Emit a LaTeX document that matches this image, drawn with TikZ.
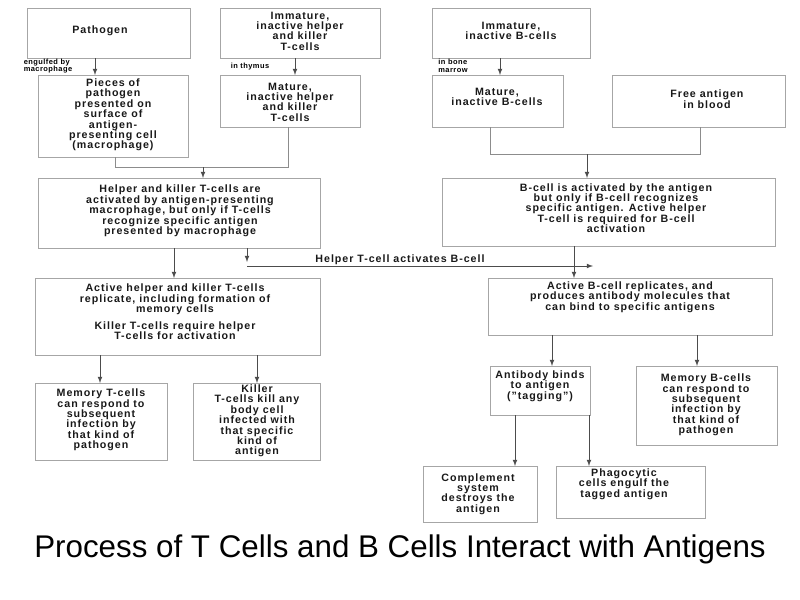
\documentclass[tikz,border=0pt]{standalone}
\usepackage{fontspec}
\setmainfont{Liberation Sans}
\begin{document}
\begin{tikzpicture}[x=0.75pt,y=-0.75pt,
  box/.style={draw=black!35,line width=0.6pt},
  txt/.style={align=center,font=\fontsize{8}{7.8}\selectfont\bfseries\addfontfeature{LetterSpace=9},text=black!90},
  lab/.style={align=left,font=\fontsize{5.6}{5.6}\selectfont\bfseries\addfontfeature{LetterSpace=6},text=black},
  ln/.style={draw=black!45,line width=0.6pt},
  ar/.style={ln,draw=black!70,-latex}]
\useasboundingbox[fill=white] (0,0) rectangle (800,600);
% boxes
\draw[box] (27,8) rectangle (190,58); \node[txt] (pat) at (100,31) {Pathogen};
\draw[box] (220,8) rectangle (380,58); \node[txt] (imt) at (300,31) {Immature,\\inactive helper\\and killer\\T-cells};
\draw[box] (432,8) rectangle (590,58); \node[txt] (imb) at (511,31) {Immature,\\inactive B-cells};
\draw[box] (38,75) rectangle (188,157); \node[txt] (pie) at (113,115) {Pieces of\\pathogen\\presented on\\surface of\\antigen-\\presenting cell\\(macrophage)};
\draw[box] (220,75) rectangle (360,127); \node[txt] (mat) at (290,102) {Mature,\\inactive helper\\and killer\\T-cells};
\draw[box] (432,75) rectangle (563,127); \node[txt] (mab) at (497,97) {Mature,\\inactive B-cells};
\draw[box] (612,75) rectangle (785,127); \node[txt] (fre) at (707,99) {Free antigen\\in blood};
\draw[box] (38,178) rectangle (320,248); \node[txt] (hel) at (180,211) {Helper and killer T-cells are\\activated by antigen-presenting\\macrophage, but only if T-cells\\recognize specific antigen\\presented by macrophage};
\draw[box] (442,178) rectangle (775,246); \node[txt] (bac) at (616,208) {B-cell is activated by the antigen\\but only if B-cell recognizes\\specific antigen. Active helper\\T-cell is required for B-cell\\activation};
\draw[box] (35,278) rectangle (320,355); \node[txt] (rep) at (175,312) {Active helper and killer T-cells\\replicate, including formation of\\memory cells\\[5pt]Killer T-cells require helper\\T-cells for activation};
\draw[box] (488,278) rectangle (772,335); \node[txt] (brp) at (630,297) {Active B-cell replicates, and\\produces antibody molecules that\\can bind to specific antigens};
\draw[box] (35,383) rectangle (167,460); \node[txt] (mt) at (101,420) {Memory T-cells\\can respond to\\subsequent\\infection by\\that kind of\\pathogen};
\draw[box] (193,383) rectangle (320,460); \node[txt] (kil) at (257,421) {Killer\\T-cells kill any\\body cell\\infected with\\that specific\\kind of\\antigen};
\draw[box] (490,366) rectangle (590,415); \node[txt] (ab) at (540,386) {Antibody binds\\to antigen\\("tagging")};
\draw[box] (636,366) rectangle (777,445); \node[txt] (mb) at (706,405) {Memory B-cells\\can respond to\\subsequent\\infection by\\that kind of\\pathogen};
\draw[box] (423,466) rectangle (537,522); \node[txt] (com) at (478,494) {Complement\\system\\destroys the\\antigen};
\draw[box] (556,466) rectangle (705,518); \node[txt] (pha) at (624,484) {Phagocytic\\cells engulf the\\tagged antigen};
% connectors
\coordinate (a1) at (95,58); \coordinate (a2) at (95,75);
\draw[ar] (a1) -- (a2);
\node[lab] (l1) at (48,66) {engulfed by\\macrophage};
\coordinate (b1) at (295,58); \coordinate (b2) at (295,75);
\draw[ar] (b1) -- (b2);
\node[lab] (l2) at (250,67) {in thymus};
\coordinate (c1) at (500,58); \coordinate (c2) at (500,75);
\draw[ar] (c1) -- (c2);
\node[lab] (l3) at (453,66) {in bone\\marrow};
\coordinate (p1) at (115,157); \coordinate (p2) at (115,167); \coordinate (p3) at (288,167); \coordinate (p4) at (288,127);
\draw[ln] (p1) -- (p2) -- (p3) -- (p4);
\coordinate (p5) at (203,167); \coordinate (p6) at (203,178);
\draw[ar] (p5) -- (p6);
\coordinate (q1) at (490,127); \coordinate (q2) at (490,154); \coordinate (q3) at (700,154); \coordinate (q4) at (700,127);
\draw[ln] (q1) -- (q2) -- (q3) -- (q4);
\coordinate (q5) at (587,154); \coordinate (q6) at (587,178);
\draw[ar] (q5) -- (q6);
\coordinate (h1) at (174,248); \coordinate (h2) at (174,278);
\draw[ar] (h1) -- (h2);
\coordinate (h3) at (247,248); \coordinate (h4) at (247,262);
\draw[ar] (h3) -- (h4);
\coordinate (h5) at (247,266); \coordinate (h6) at (593,266);
\draw[ar] (h5) -- (h6);
\node[txt] (hab) at (400,260) {Helper T-cell activates B-cell};
\coordinate (k1) at (574,246); \coordinate (k2) at (574,278);
\draw[ar] (k1) -- (k2);
\coordinate (r1) at (100,355); \coordinate (r2) at (100,383);
\draw[ar] (r1) -- (r2);
\coordinate (r3) at (257,355); \coordinate (r4) at (257,383);
\draw[ar] (r3) -- (r4);
\coordinate (s1) at (552,335); \coordinate (s2) at (552,366);
\draw[ar] (s1) -- (s2);
\coordinate (s3) at (697,335); \coordinate (s4) at (697,366);
\draw[ar] (s3) -- (s4);
\coordinate (t1) at (515,415); \coordinate (t2) at (515,466);
\draw[ar] (t1) -- (t2);
\coordinate (t3) at (589,415); \coordinate (t4) at (589,466);
\draw[ar] (t3) -- (t4);
\node[font=\fontsize{23.5}{26}\selectfont] (title) at (400,549) {Process of T Cells and B Cells Interact with Antigens};
\end{tikzpicture}
\end{document}
